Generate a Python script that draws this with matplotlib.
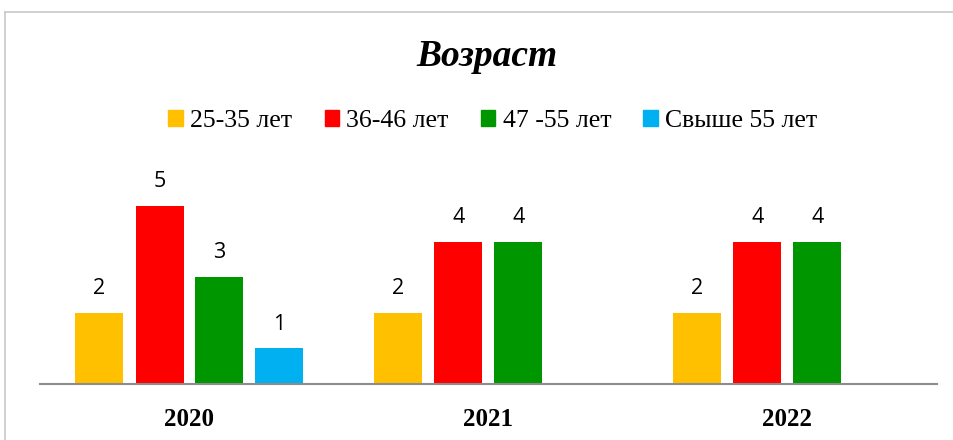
import matplotlib.pyplot as plt
from matplotlib.patches import Patch
from matplotlib.lines import Line2D
import numpy as np

years = ["2020", "2021", "2022"]
groups = ["25-35 лет", "36-46 лет", "47 -55 лет", "Свыше 55 лет"]
values = {
    "25-35 лет": [2, 2, 2],
    "36-46 лет": [5, 4, 4],
    "47 -55 лет": [3, 4, 4],
    "Свыше 55 лет": [1, None, None],
}
colors = ["#FFC000", "#FF0000", "#009600", "#00B0F0"]

W, H = 954, 440
fig = plt.figure(figsize=(W / 100, H / 100), dpi=100)
ax = fig.add_axes([40 / W, 1 - 384 / H, 897 / W, 213.6 / H])

x = np.arange(len(years))
step = 60 / 299
bw = 48 / 299
for i, (g, c) in enumerate(zip(groups, colors)):
    for xi, v in zip(x, values[g]):
        if v is None:
            continue
        pos = xi + (i - 1.5) * step
        ax.bar(pos, v, width=bw, color=c)
        ax.annotate(str(v), (pos, v), xytext=(0, 10), textcoords="offset points",
                    ha="center", va="bottom", fontsize=15.5, family="Open Sans",
                    color="black")

ax.set_xlim(-0.5, 2.5)
ax.set_ylim(0, 6)
ax.set_yticks([])
ax.set_xticks(x)
ax.set_xticklabels(years, family="Liberation Serif", fontweight="bold", fontsize=18)
ax.tick_params(axis="x", length=0, pad=17)
for s in ["top", "right", "left"]:
    ax.spines[s].set_visible(False)
ax.spines["bottom"].set_color("#8C8C8C")
ax.spines["bottom"].set_linewidth(1.5)

fig.text(487 / W, 1 - 56 / H, "Возраст", ha="center", va="center",
         family="Liberation Serif", fontweight="bold", style="italic", fontsize=27)

handles = [Patch(color=c, label=g) for g, c in zip(groups, colors)]
fig.legend(handles=handles, loc="center", bbox_to_anchor=(493 / W, 1 - 121 / H),
           ncol=4, frameon=False, handlelength=0.55, handleheight=0.55,
           handletextpad=0.3, columnspacing=1.25,
           prop={"family": "Liberation Serif", "size": 18.5})

# frame edges of the original screenshot
fig.add_artist(Line2D([5 / W, 1], [1 - 12 / H, 1 - 12 / H], color="#C8C8C8", lw=1.2,
                      transform=fig.transFigure))
fig.add_artist(Line2D([5 / W, 5 / W], [0, 1 - 12 / H], color="#C8C8C8", lw=1.2,
                      transform=fig.transFigure))

fig.savefig("out.png", dpi=100)
